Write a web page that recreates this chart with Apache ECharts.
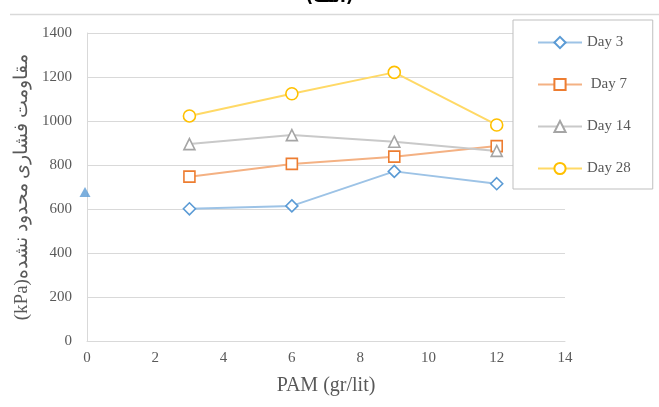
<!DOCTYPE html>
<html><head><meta charset="utf-8">
<script src="https://cdn.jsdelivr.net/npm/echarts@6/dist/echarts.min.js"></script>
<style>html,body{margin:0;padding:0;background:#fff}#c{width:659px;height:407px}</style>
</head><body><div id="c"></div>
<script>
const pam = [3, 6, 9, 12];
const day3 = [601, 614, 771, 715];
const day7 = [747, 805, 838, 886];
const day14 = [895, 936, 906, 864];
const day28 = [1023, 1124, 1221, 982];
const controlPoint = [[0, 677]];
const seriesNames = ['Day 3', ' Day 7', 'Day 14', 'Day 28'];
const xTitle = 'PAM (gr/lit)';
const yTitle = '(kPa)مقاومت فشاری محدود نشده';
const topTitle = '(الف)';

const font = 'Liberation Serif';
function pairs(vals){ return pam.map((x,i)=>[x, vals[i]]); }
function mk(name, vals, symbol, mc, lc, size){
  return {
    name, type:'line', data:pairs(vals), symbol, symbolSize:size,
    lineStyle:{color:lc, width:2},
    itemStyle:{color:'#fff', borderColor:mc, borderWidth:1.6},
    emphasis:{disabled:true}, z:3
  };
}
const chart = echarts.init(document.getElementById('c'), null, {renderer:'canvas'});
chart.setOption({
  animation:false,
  backgroundColor:'#fff',
  grid:{left:87, right:94, top:33, bottom:66, containLabel:false},
  xAxis:{type:'value', min:0, max:14, interval:2,
    axisLine:{show:true, lineStyle:{color:'#d9d9d9', width:1}},
    axisTick:{show:false}, splitLine:{show:false},
    axisLabel:{color:'#595959', fontFamily:font, fontSize:15, margin:10, formatter:v=>String(v)},
    name:xTitle, nameLocation:'middle', nameGap:35,
    nameTextStyle:{color:'#595959', fontFamily:font, fontSize:20}},
  yAxis:{type:'value', min:0, max:1400, interval:200,
    axisLine:{show:true, lineStyle:{color:'#d9d9d9', width:1}},
    axisTick:{show:false},
    splitLine:{show:true, lineStyle:{color:'#d9d9d9', width:1}},
    axisLabel:{color:'#595959', fontFamily:font, fontSize:15, margin:15, formatter:v=>String(v)},
    name:yTitle, nameLocation:'middle', nameGap:52, nameRotate:90,
    nameTextStyle:{color:'#595959', fontFamily:font, fontSize:19}},
  legend:{orient:'vertical', left:513, top:20,
    data:seriesNames,
    itemWidth:44, itemHeight:14, itemGap:27,
    padding:[15,22,13,24],
    backgroundColor:'#fff', borderColor:'#bfbfbf', borderWidth:1,
    textStyle:{color:'#595959', fontFamily:font, fontSize:15}},
  graphic:[
    {type:'line', shape:{x1:10, y1:14.5, x2:659, y2:14.5}, style:{stroke:'#d9d9d9', lineWidth:1.5}},
    {type:'text', left:'center', top:-11, style:{text:topTitle, font:'bold 17px "DejaVu Sans"', fill:'#000'}}
  ],
  series:[
    mk(seriesNames[0], day3, 'diamond', '#5B9BD5', '#9DC3E6', 12),
    mk(seriesNames[1], day7, 'rect', '#ED7D31', '#F4B183', 11),
    mk(seriesNames[2], day14, 'triangle', '#A5A5A5', '#C9C9C9', 11),
    mk(seriesNames[3], day28, 'circle', '#FFC000', '#FFD966', 12),
    {name:'control', type:'scatter', data:controlPoint, symbol:'triangle', symbolSize:[11,10],
     symbolOffset:[-2,0], clip:false, itemStyle:{color:'#5B9BD5'}, z:4}
  ]
});
</script></body></html>
